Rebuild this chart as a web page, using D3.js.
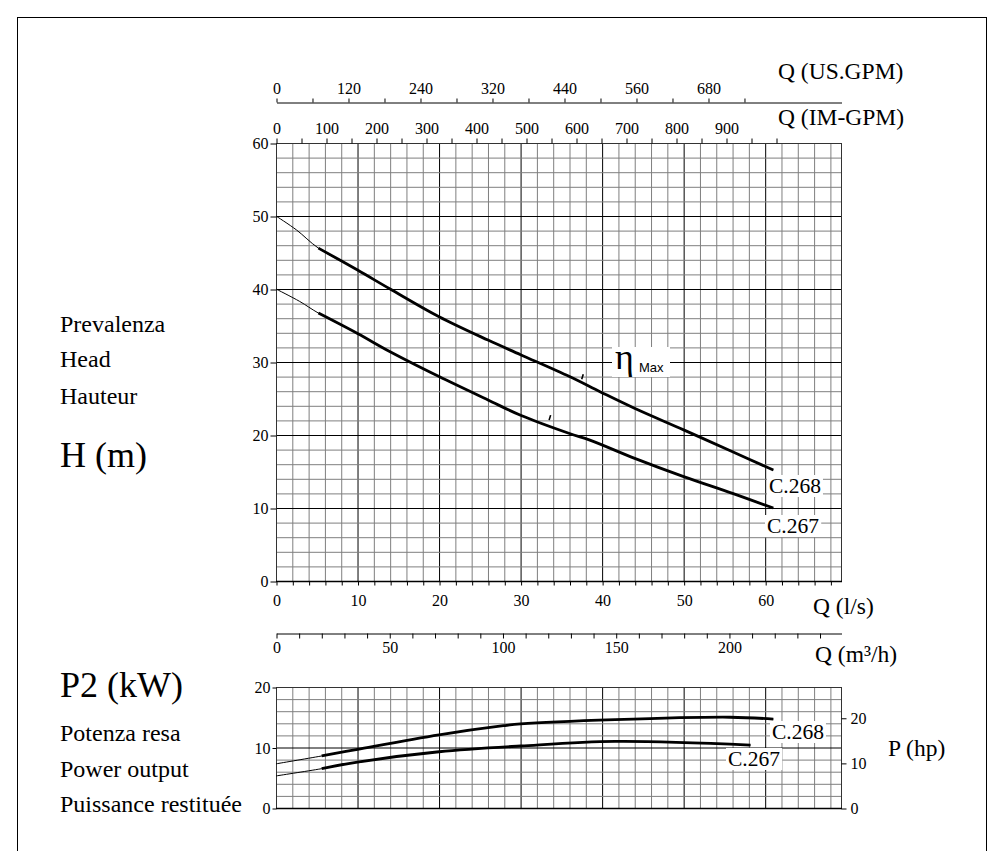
<!DOCTYPE html>
<html>
<head>
<meta charset="utf-8">
<script src="https://cdnjs.cloudflare.com/ajax/libs/d3/7.8.5/d3.min.js"></script>
<style>
  body { margin: 0; background: #fff; }
  text { font-family: "Liberation Serif", "Times New Roman", serif; fill: #000; }
</style>
</head>
<body>
<div id="chart"></div>
<script>
// ---- data ----
// head curves, Q in l/s, H in m
const qHead268 = [0, 2.5, 5.2, 10, 14, 20, 26, 30, 36, 39.8, 43.9, 50, 56, 61];
const hHead268 = [50, 48.1, 45.6, 42.6, 40.0, 36.2, 33.0, 31.0, 28.0, 25.9, 23.7, 20.7, 17.7, 15.2];
const qHead267 = [0, 2.9, 5.2, 10, 14, 20, 26, 30, 36, 38.5, 44, 50, 56, 61];
const hHead267 = [40, 38.3, 36.7, 33.9, 31.4, 28.0, 24.8, 22.7, 20.2, 19.3, 16.8, 14.3, 12.0, 10.0];
// power curves, Q in l/s, P2 in kW
const qPow268 = [0, 5.6, 10, 20, 27.9, 30, 41.6, 55.7, 61];
const pPow268 = [7.3, 8.6, 9.7, 12.1, 13.6, 13.9, 14.6, 15.0, 14.7];
const qPow267 = [0, 5.6, 10, 20, 30, 41.6, 58.2];
const pPow267 = [5.3, 6.5, 7.6, 9.3, 10.25, 11.0, 10.4];
// thin (extrapolated) part of every curve ends here
const thinUntil = 5;
// max efficiency marks
const etaQ = [37.5, 33.5];
const etaH = [27.5, 21.9];

// axis ticks / labels
const usGpmTicks = [0, 60, 120, 180, 240, 300, 360, 420, 480, 540, 600, 660, 720, 780];
const usGpmLabels = ["0", "", "120", "", "240", "", "320", "", "440", "", "560", "", "680", ""];
const imGpmTicks = d3.range(0, 1001, 50);
const imGpmLabels = [0, 100, 200, 300, 400, 500, 600, 700, 800, 900];
const lsLabels = [0, 10, 20, 30, 40, 50, 60];
const m3hLabels = [0, 50, 100, 150, 200];
const headTicks = [0, 10, 20, 30, 40, 50, 60];
const kwTicks = [0, 10, 20];
const hpTicks = [0, 10, 20];

const W = 1004, H = 851;
const svg = d3.select("#chart").append("svg")
  .attr("width", W).attr("height", H);

svg.append("rect").attr("width", W).attr("height", H).attr("fill", "#fff");
// outer frame
svg.append("rect")
  .attr("x", 17.5).attr("y", 17.5).attr("width", 969).attr("height", 860)
  .attr("fill", "none").attr("stroke", "#000").attr("stroke-width", 1);

// ---- scales ----
const x = d3.scaleLinear().domain([0, 69.3]).range([276, 841]);
const yHead = d3.scaleLinear().domain([0, 60]).range([581, 143]);
const yPow = d3.scaleLinear().domain([0, 20]).range([808, 687]);
const yHp = d3.scaleLinear().domain([0, 20 / 0.7457]).range([808, 687]);
const xUs = d3.scaleLinear().domain([0, 941.7]).range([276, 841]);
const xIm = d3.scaleLinear().domain([0, 1130]).range([276, 841]);
const xM3h = d3.scaleLinear().domain([0, 69.3 * 3.6]).range([276, 841]);

function styleAxis(g, size) {
  g.selectAll("text")
    .style("font-family", '"Liberation Serif", "Times New Roman", serif')
    .style("font-size", size + "px")
    .attr("fill", "#000");
  g.selectAll("line").attr("stroke", "#000");
  g.selectAll("path").attr("stroke", "#000");
}

// ---- grids ----
function drawGrid(y, yMax, yStep) {
  const g = svg.append("g");
  const qs = d3.range(0, 69, 2);
  g.selectAll("line.v").data(qs).enter().append("line")
    .attr("x1", d => x(d) + 0.5).attr("x2", d => x(d) + 0.5)
    .attr("y1", y(yMax)).attr("y2", y(0))
    .attr("stroke", d => d % 10 === 0 ? "#000" : "#7f7f7f")
    .attr("stroke-width", 1);
  const hs = d3.range(0, yMax + 0.1, yStep);
  g.selectAll("line.h").data(hs).enter().append("line")
    .attr("x1", x(0)).attr("x2", x(69.3))
    .attr("y1", d => y(d) + 0.5).attr("y2", d => y(d) + 0.5)
    .attr("stroke", d => d % 10 === 0 ? "#000" : "#7f7f7f")
    .attr("stroke-width", 1);
  g.append("rect")
    .attr("x", x(0) + 0.5).attr("y", y(yMax) + 0.5)
    .attr("width", x(69.3) - x(0)).attr("height", y(0) - y(yMax))
    .attr("fill", "none").attr("stroke", "#333").attr("stroke-width", 1);
  // bottom edge
  g.append("line")
    .attr("x1", x(0)).attr("x2", x(69.3) + 1)
    .attr("y1", y(0) + 0.5).attr("y2", y(0) + 0.5)
    .attr("stroke", "#000").attr("stroke-width", 1.3);
}
drawGrid(yHead, 60, 2);
drawGrid(yPow, 20, 2);

// ---- head chart axes ----
const gHeadY = svg.append("g").attr("transform", "translate(276.5,0.5)")
  .call(d3.axisLeft(yHead).tickValues(headTicks).tickSize(6).tickPadding(2));
gHeadY.select(".domain").remove();
styleAxis(gHeadY, 16);

const gLs = svg.append("g").attr("transform", "translate(0.5,581.5)")
  .call(d3.axisBottom(x).tickValues(d3.range(0, 69, 2)).tickSize(4).tickPadding(9)
    .tickFormat(d => lsLabels.includes(d) ? d : ""));
gLs.select(".domain").remove();
styleAxis(gLs, 16);

const gIm = svg.append("g").attr("transform", "translate(0.5,143.5)")
  .call(d3.axisTop(xIm).tickValues(imGpmTicks).tickSize(5).tickPadding(5)
    .tickFormat(d => imGpmLabels.includes(d) ? d : ""));
gIm.select(".domain").remove();
styleAxis(gIm, 16);

const gUs = svg.append("g").attr("transform", "translate(0.5,102.5)")
  .call(d3.axisTop(xUs).tickValues(usGpmTicks).tickSize(4).tickSizeOuter(0).tickPadding(5)
    .tickFormat((d, i) => usGpmLabels[i]));
styleAxis(gUs, 16);

const gM3h = svg.append("g").attr("transform", "translate(0.5,633.5)")
  .call(d3.axisBottom(xM3h).tickValues(d3.range(0, 241, 10)).tickSize(5).tickSizeOuter(0).tickPadding(3)
    .tickFormat(d => m3hLabels.includes(d) ? d : ""));
styleAxis(gM3h, 16);

// ---- power chart axes ----
const gKw = svg.append("g").attr("transform", "translate(276.5,0.5)")
  .call(d3.axisLeft(yPow).tickValues(kwTicks).tickSize(4).tickPadding(2));
gKw.select(".domain").remove();
styleAxis(gKw, 16);

const gHp = svg.append("g").attr("transform", "translate(841.5,0.5)")
  .call(d3.axisRight(yHp).tickValues(hpTicks).tickSize(5).tickPadding(4));
gHp.select(".domain").remove();
styleAxis(gHp, 16);

// ---- curves ----
function drawCurve(qs, vs, y) {
  const pts = qs.map((q, i) => [q, vs[i]]);
  const line = d3.line().x(d => x(d[0])).y(d => y(d[1])).curve(d3.curveCatmullRom.alpha(0.5));
  svg.append("path").attr("d", line(pts))
    .attr("fill", "none").attr("stroke", "#000").attr("stroke-width", 1);
  svg.append("path").attr("d", line(pts.filter(d => d[0] >= thinUntil)))
    .attr("fill", "none").attr("stroke", "#000").attr("stroke-width", 2.8)
    .attr("stroke-linecap", "butt");
}
drawCurve(qHead268, hHead268, yHead);
drawCurve(qHead267, hHead267, yHead);
drawCurve(qPow268, pPow268, yPow);
drawCurve(qPow267, pPow267, yPow);

// max efficiency marks
etaQ.forEach((q, i) => {
  svg.append("line")
    .attr("x1", x(q)).attr("y1", yHead(etaH[i]) - 1)
    .attr("x2", x(q) + 1.5).attr("y2", yHead(etaH[i]) - 6)
    .attr("stroke", "#000").attr("stroke-width", 1.6);
});

// ---- labels with white boxes ----
function boxLabel(txt, lx, ly, size) {
  const t = svg.append("text").attr("x", lx).attr("y", ly)
    .style("font-size", size + "px").text(txt);
  const b = t.node().getBBox();
  svg.insert("rect", () => t.node())
    .attr("x", b.x - 2).attr("y", b.y + 1).attr("width", b.width + 4).attr("height", b.height - 2)
    .attr("fill", "#fff");
}
boxLabel("C.268", 769, 493, 21.5);
boxLabel("C.267", 767, 533, 21.5);
boxLabel("C.268", 772, 739, 21.5);
boxLabel("C.267", 728, 766, 21.5);

// eta max
svg.append("rect").attr("x", 612).attr("y", 347).attr("width", 58).attr("height", 30).attr("fill", "#fff");
svg.append("text").attr("x", 615).attr("y", 369).style("font-size", "36px").text("η");
svg.append("text").attr("x", 639).attr("y", 372)
  .style("font-family", '"Liberation Sans", Arial, sans-serif').style("font-size", "13px").text("Max");

// ---- titles ----
function title(txt, tx, ty, size) {
  svg.append("text").attr("x", tx).attr("y", ty).style("font-size", size + "px").text(txt);
}
title("Q (US.GPM)", 778, 79, 23.5);
title("Q (IM-GPM)", 778, 125, 23.5);
title("Q (l/s)", 813, 614, 23.5);
title("Q (m³/h)", 815, 662, 23.5);
title("P (hp)", 888, 756, 23.5);

title("Prevalenza", 60, 332, 24);
title("Head", 60, 367, 24);
title("Hauteur", 60, 404, 24);
title("H (m)", 60, 467, 36);

title("P2 (kW)", 60, 697, 36);
title("Potenza resa", 60, 741, 24);
title("Power output", 60, 777, 24);
title("Puissance restituée", 60, 812, 24);
</script>
</body>
</html>
